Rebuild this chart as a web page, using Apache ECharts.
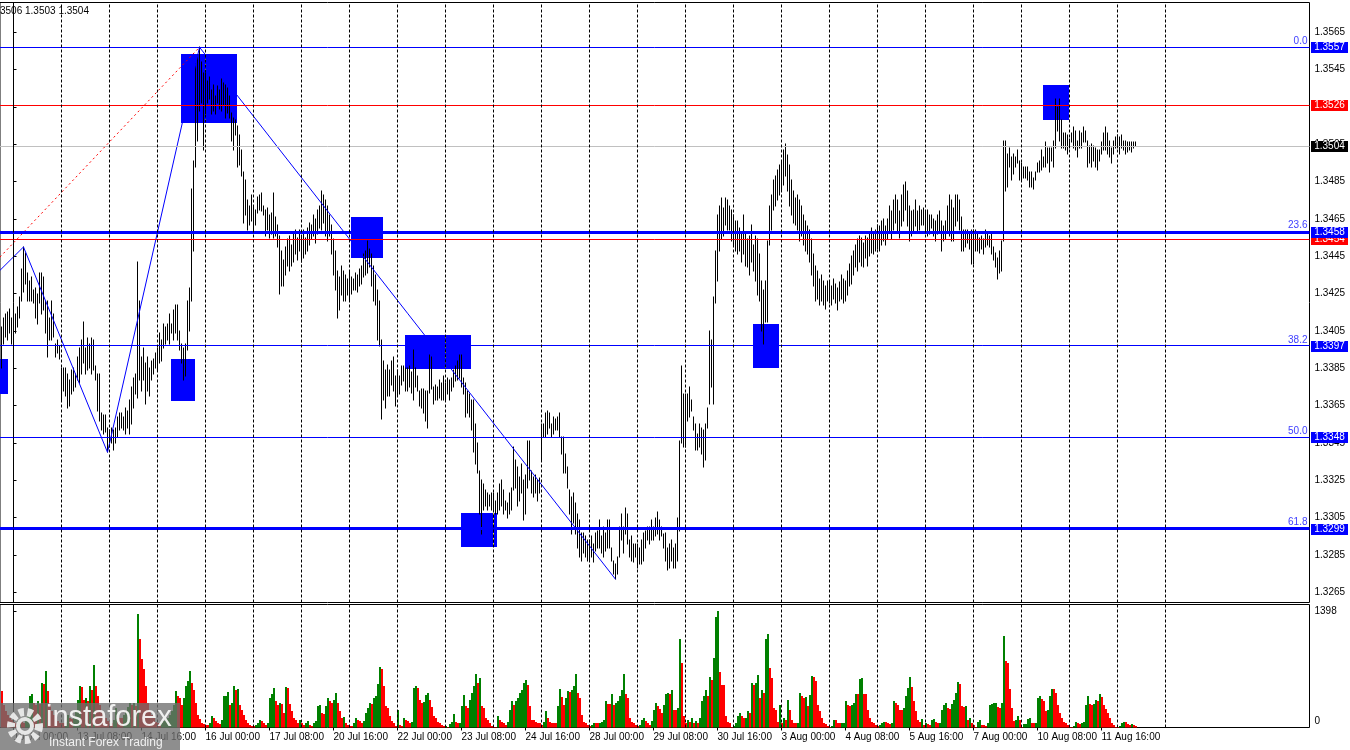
<!DOCTYPE html>
<html>
<head>
<meta charset="utf-8">
<script src="https://cdn.jsdelivr.net/npm/echarts@6.0.0/dist/echarts.min.js"></script>
<style>
html,body{margin:0;padding:0;background:#fff;}
#chart{width:1350px;height:750px;}
</style>
</head>
<body>
<div id="chart"></div>
<script>
// ---------------- DATA ----------------
// hourly bars, index 0 = 10 Jul 00:00 (one index per trading hour)
const firstBar = -6;
const priceBase = 1.3;            // prices stored in pips above 1.3000
// [low, high] of each hourly bar in pips
const rangePips = [
// 9 Jul 18:00-23:00
[385,407],[398,412],[402,414],[400,415],[404,417],[398,412],
// 10 Jul
[394,411],[404,414],[407,418],[412,423],[421,438],[426,450],[430,447],[421,436],[421,432],[421,434],[420,427],[412,428],[409,425],[420,436],[414,436],[416,434],[404,421],[391,421],[400,412],[400,421],[402,414],[391,398],[393,400],[390,397],
// 13 Jul
[368,385],[373,385],[370,385],[364,382],[365,379],[371,384],[373,385],[375,382],[379,391],[377,396],[382,400],[388,410],[382,396],[384,401],[385,398],[382,401],[384,400],[379,386],[362,382],[357,382],[352,361],[350,360],[351,360],[340,353],
// 14 Jul
[343,352],[345,353],[341,352],[345,353],[348,359],[352,361],[353,361],[352,359],[350,364],[353,362],[350,368],[355,375],[364,380],[371,382],[369,442],[379,421],[373,391],[379,396],[366,388],[373,391],[370,385],[379,389],[382,390],[385,393],
// 15 Jul
[384,396],[388,404],[389,400],[396,409],[398,407],[400,409],[398,414],[404,409],[400,416],[404,419],[400,419],[395,405],[388,398],[379,396],[381,398],[395,421],[405,428],[421,481],[448,496],[493,548],[507,553],[523,557],[527,549],[502,543],
// 16 Jul
[521,543],[527,539],[529,541],[521,534],[523,537],[521,531],[527,536],[524,534],[523,540],[526,538],[519,537],[522,535],[519,531],[507,522],[502,519],[510,518],[493,515],[494,510],[488,502],[463,490],[467,486],[459,475],[462,472],[464,478],
// 17 Jul
[458,472],[462,470],[468,477],[470,478],[469,479],[467,472],[456,470],[459,471],[455,467],[457,468],[455,479],[456,466],[450,462],[425,456],[429,448],[429,443],[435,450],[440,454],[437,456],[440,451],[442,458],[446,459],[443,455],[448,459],
// 20 Jul
[442,456],[444,459],[446,455],[448,460],[451,463],[454,462],[456,467],[452,465],[457,470],[460,472],[459,480],[463,478],[456,475],[453,472],[456,467],[446,462],[435,454],[427,448],[412,437],[416,434],[424,440],[421,437],[421,435],[424,433],
// 21 Jul
[421,437],[425,434],[427,433],[427,436],[426,435],[429,438],[430,440],[434,446],[435,448],[436,453],[439,449],[429,446],[421,440],[419,435],[400,427],[397,421],[358,400],[368,389],[364,384],[370,387],[370,384],[376,389],[373,391],[365,381],
// 22 Jul
[370,384],[371,381],[376,386],[378,386],[373,385],[373,385],[375,386],[372,383],[368,395],[375,385],[373,381],[365,373],[364,374],[361,374],[357,373],[353,373],[372,392],[374,391],[366,375],[368,376],[368,375],[369,379],[368,377],[368,381],
// 23 Jul
[368,377],[371,380],[368,379],[373,380],[375,384],[378,386],[379,389],[380,392],[375,392],[371,380],[359,377],[361,373],[359,371],[352,368],[340,368],[334,355],[329,345],[307,330],[296,325],[309,323],[311,320],[309,318],[311,317],[309,318],
// 24 Jul
[309,318],[307,314],[307,318],[309,323],[311,325],[307,320],[309,314],[305,313],[307,318],[309,321],[320,343],[321,336],[311,332],[314,327],[318,334],[304,325],[307,328],[321,346],[325,346],[318,330],[316,327],[318,328],[314,325],[318,326],
// 27 Jul
[336,355],[348,355],[348,361],[350,362],[353,361],[348,355],[350,359],[352,358],[352,359],[348,361],[339,348],[329,348],[329,339],[321,332],[307,320],[296,316],[302,318],[296,313],[289,307],[284,304],[282,297],[286,297],[284,295],[282,293],
// 28 Jul
[282,293],[284,295],[281,291],[287,297],[289,298],[289,304],[286,295],[284,300],[287,297],[289,304],[289,304],[282,289],[275,282],[272,280],[275,284],[284,300],[293,307],[286,300],[296,310],[291,307],[284,293],[282,295],[281,291],[284,291],
// 29 Jul
[278,291],[280,289],[280,293],[282,297],[289,298],[293,300],[291,300],[293,304],[293,300],[295,305],[296,308],[293,304],[295,300],[289,296],[282,297],[277,289],[278,291],[282,293],[278,289],[278,291],[282,305],[298,346],[345,386],[343,371],
// 30 Jul
[343,371],[357,371],[359,375],[362,368],[352,359],[341,355],[341,350],[343,355],[339,353],[332,352],[336,355],[353,364],[366,405],[375,400],[366,423],[420,448],[432,467],[448,472],[454,476],[456,471],[462,476],[459,475],[459,472],[453,470],
// 31 Jul
[451,467],[448,464],[446,464],[448,460],[442,458],[446,467],[440,458],[439,454],[435,456],[442,462],[437,451],[432,456],[424,454],[421,446],[405,432],[398,427],[410,432],[410,453],[451,472],[459,478],[470,486],[472,488],[475,491],[478,494],
// 3 Aug
[480,496],[483,502],[488,505],[480,499],[472,494],[467,486],[463,480],[462,476],[459,478],[453,475],[456,472],[451,467],[448,464],[446,461],[442,459],[435,454],[429,446],[421,440],[422,437],[419,433],[421,435],[419,432],[417,429],[421,432],
// 4 Aug
[420,431],[419,429],[422,433],[420,430],[416,428],[421,431],[422,435],[420,433],[421,432],[424,437],[429,441],[430,445],[435,448],[439,451],[437,454],[442,456],[440,455],[439,452],[444,456],[440,455],[445,458],[447,460],[446,458],[448,459],
// 5 Aug
[449,462],[448,461],[451,464],[453,465],[451,461],[454,465],[458,472],[454,469],[459,475],[463,478],[458,475],[455,469],[461,478],[464,483],[470,485],[461,480],[453,472],[456,469],[458,470],[461,475],[458,469],[459,472],[462,470],[462,471],
// 6 Aug
[458,469],[456,470],[457,467],[460,467],[456,465],[453,464],[457,467],[458,469],[448,464],[453,461],[454,464],[458,472],[456,478],[453,475],[453,471],[461,478],[464,478],[459,475],[448,466],[448,459],[450,459],[452,459],[449,457],[441,459],
// 7 Aug
[441,459],[448,459],[448,457],[447,455],[449,456],[446,454],[450,459],[451,457],[450,456],[446,457],[443,450],[439,447],[433,444],[436,448],[437,453],[453,507],[480,507],[482,500],[493,503],[486,498],[489,500],[493,498],[495,502],[486,496],
// 10 Aug
[486,495],[487,493],[487,493],[486,493],[482,490],[482,490],[481,487],[486,490],[490,495],[490,496],[491,502],[493,498],[493,506],[495,503],[490,503],[496,503],[493,507],[503,529],[512,525],[507,529],[503,518],[503,511],[502,511],[500,510],
// 11 Aug
[503,508],[506,511],[503,514],[502,512],[498,507],[503,512],[503,511],[506,514],[506,512],[493,507],[495,504],[493,505],[496,504],[493,503],[491,502],[496,502],[500,506],[502,511],[502,514],[500,511],[498,507],[495,503],[500,507],[503,509],
// 12 Aug
[503,510],[500,509],[503,510],[502,507],[500,507],[501,506],[502,506],[501,506],[503,506],[504,506]
];

// tick volume of each bar
const volumes = [
435,274,200,150,120,90,
70,55,80,100,75,60,95,150,383,403,294,274,314,286,536,520,677,435,274,200,150,110,80,60,
60,50,70,150,120,100,130,200,334,496,488,334,355,314,496,455,745,496,383,274,200,150,110,80,
60,50,90,230,150,120,110,150,200,250,290,270,300,255,1362,1060,818,697,496,300,200,150,110,70,
60,50,60,80,100,120,150,200,274,435,375,355,274,355,496,556,677,536,455,300,153,100,50,40,
32,30,52,133,113,73,52,44,93,375,383,423,274,294,504,447,463,274,213,153,93,52,32,20,
18,32,52,85,80,52,32,60,355,407,476,322,274,294,286,173,488,476,286,193,113,85,52,93,
52,32,60,73,32,20,60,80,262,270,173,165,254,355,314,300,335,415,300,200,120,130,60,35,
24,16,52,113,93,73,52,73,177,238,298,278,359,380,520,721,701,500,258,238,137,73,52,24,
205,32,20,113,93,73,60,65,475,496,475,334,290,310,395,415,330,250,140,110,70,50,30,15,
16,12,40,72,165,72,52,60,254,395,262,234,326,415,496,637,536,596,254,234,113,93,52,20,
12,4,133,93,72,52,32,72,214,314,274,314,355,415,455,536,576,516,254,93,90,72,52,50,
32,72,193,113,72,60,58,52,254,463,367,274,355,435,430,445,496,637,415,355,153,72,52,32,
20,32,60,52,50,55,72,85,314,286,280,407,274,290,314,375,455,637,407,355,113,72,52,32,
20,32,93,113,80,60,32,80,214,294,254,222,180,274,407,420,400,455,214,210,234,1068,770,133,
52,93,72,113,60,80,52,113,314,375,455,375,608,568,838,1322,1398,665,516,510,133,72,52,12,
20,52,133,173,141,113,120,193,170,536,516,536,625,355,447,415,1060,1120,717,596,234,214,72,274,
60,113,93,334,214,85,60,52,55,415,375,355,363,254,395,617,608,556,274,193,113,60,44,20,
10,20,93,85,60,52,55,60,314,274,254,274,294,407,400,584,596,407,400,214,113,72,60,32,
20,30,60,72,70,52,44,60,314,294,274,214,210,234,375,475,608,488,314,193,85,72,101,32,
60,44,32,93,101,72,52,60,214,274,294,234,220,280,334,415,544,528,254,250,254,85,113,60,
32,12,72,85,32,30,24,52,274,280,294,300,246,234,294,1100,798,780,467,234,80,93,141,93,
12,40,42,101,113,52,50,52,355,383,343,314,200,214,383,463,460,415,274,173,113,72,52,32,
12,10,20,72,52,44,52,72,274,383,282,274,278,334,314,403,367,274,222,173,113,60,32,12,
4,20,52,72,64,40,32,44,32,20
];

// day starts (00:00) in bar index
const dayStarts = [0,24,48,72,96,120,144,168,192,216,240,264,288,312,336,360,384,408,432,456,480,504,528,552,576];
// time-axis labels
const timeLabelIdx = [0,32,64,96,128,160,192,224,256,288,320,352,384,416,448,480,512,544];
const timeLabels = ['10 Jul 00:00','13 Jul 08:00','14 Jul 16:00','16 Jul 00:00','17 Jul 08:00','20 Jul 16:00','22 Jul 00:00','23 Jul 08:00','24 Jul 16:00','28 Jul 00:00','29 Jul 08:00','30 Jul 16:00','3 Aug 00:00','4 Aug 08:00','5 Aug 16:00','7 Aug 00:00','10 Aug 08:00','11 Aug 16:00'];
// price scale labels
const priceTicks = [1.3265,1.3285,1.3305,1.3325,1.3345,1.3365,1.3385,1.3405,1.3425,1.3445,1.3465,1.3485,1.3505,1.3525,1.3545,1.3565];
const volumeTicks = [0, 1398];

// Fibonacci levels
const fibPrices = [1.3557, 1.3458, 1.3397, 1.3348, 1.3299];
const fibNames  = ['0.0', '23.6', '38.2', '50.0', '61.8'];
// red support / resistance levels
const redLevels = [1.3526, 1.3454];
const lastPrice = 1.3504;
const headerText = '3506 1.3503 1.3504';

// zigzag swing points [bar index, price]
const zigzag = [[-6.75,1.34375],[5,1.3450],[47,1.3340],[93,1.3557],[301,1.3272]];
// fibonacci base line (dotted red)
const fibBase = [[-6.75,1.34446],[93,1.3557]];
// blue zones [startIdx, endIdx, lowPrice, highPrice]
const zones = [
  [-6.75,-2.6,1.33711,1.33898],
  [78.75,90.75,1.33675,1.33898],
  [83.75,111.6,1.35164,1.35532],
  [168.75,184.6,1.34441,1.34661],
  [195.75,228.75,1.33845,1.34027],
  [223.75,241.6,1.32893,1.33075],
  [369.75,382.75,1.33852,1.34086],
  [514.75,527.75,1.35180,1.35366]
];

// ---------------- BUILD ----------------
const FONT = "'Liberation Sans', Arial, sans-serif";
const FS = 10;
const priceData = rangePips.map((r, k) => [firstBar + k, priceBase + r[0] / 1e4, priceBase + r[1] / 1e4]);
const volData = volumes.map((v, k) => [firstBar + k, v, (k > 0 && v > volumes[k - 1]) ? 1 : 0]);
const fibWidths = [1, 3, 1, 1, 3];

// level table: price + drawing style (red first so the blue 1.3458 tag covers the red 1.3454 tag)
const levelStyles = [];
const levelData = [];
redLevels.forEach(p => { levelData.push([p, levelStyles.length]); levelStyles.push({stroke: '#ff0000', w: 1, bg: '#ff0000', name: ''}); });
levelData.push([lastPrice, levelStyles.length]); levelStyles.push({stroke: '#c0c0c0', w: 1, bg: '#000000', name: ''});
fibPrices.forEach((p, i) => { levelData.push([p, levelStyles.length]); levelStyles.push({stroke: '#0000ff', w: fibWidths[i], bg: '#0000ff', name: fibNames[i]}); });

const X_MIN = -6.75, X_MAX = 648;
const vertLine = {symbol: ['none', 'none'], silent: true, animation: false, precision: 4,
  lineStyle: {color: '#000', width: 1, type: [3, 2]}, label: {show: false},
  data: dayStarts.map(d => ({xAxis: d}))};
const snap = v => Math.round(v - 0.5) + 0.5;

const titles = [{text: headerText, left: 0, top: 6, padding: 0,
  textStyle: {fontSize: FS, fontWeight: 'normal', color: '#000', fontFamily: FONT}}];
if (rangePips.length !== volumes.length) {
  titles.push({text: 'COUNT MISMATCH ' + rangePips.length + ' / ' + volumes.length, left: 400, top: 300, textStyle: {color: 'red', fontSize: 30}});
}

const chart = echarts.init(document.getElementById('chart'), null, {renderer: 'canvas'});
chart.setOption({
  animation: false,
  backgroundColor: '#ffffff',
  title: titles,
  grid: [
    {left: 0, right: 40.5, top: 2.5, height: 600, show: true, borderColor: '#000', borderWidth: 1},
    {left: 0, right: 40.5, top: 604.5, height: 123, show: true, borderColor: '#000', borderWidth: 1}
  ],
  xAxis: [
    {gridIndex: 0, type: 'value', min: X_MIN, max: X_MAX, show: false},
    {gridIndex: 1, type: 'value', min: X_MIN, max: X_MAX,
      axisLine: {show: false},
      axisTick: {show: true, customValues: timeLabelIdx, length: 3, lineStyle: {color: '#000'}},
      axisLabel: {show: true, customValues: timeLabelIdx, align: 'left', margin: 5, color: '#000', fontSize: FS, fontFamily: FONT,
        formatter: v => timeLabels[timeLabelIdx.indexOf(Math.round(v))] || ''},
      splitLine: {show: false}}
  ],
  yAxis: [
    {gridIndex: 0, type: 'value', position: 'right', min: 1.3259536, max: 1.3580964,
      axisLine: {show: true, lineStyle: {color: '#000'}},
      axisTick: {show: true, customValues: priceTicks, length: 3, lineStyle: {color: '#000'}},
      axisLabel: {show: true, customValues: priceTicks, margin: 5, color: '#000', fontSize: FS, fontFamily: FONT,
        formatter: v => v.toFixed(4)},
      splitLine: {show: false}},
    {gridIndex: 1, type: 'value', position: 'right', min: 0, max: 1476,
      axisLine: {show: true, lineStyle: {color: '#000'}},
      axisTick: {show: true, customValues: volumeTicks, length: 3, lineStyle: {color: '#000'}},
      axisLabel: {show: true, customValues: volumeTicks, margin: 5, color: '#000', fontSize: FS, fontFamily: FONT,
        formatter: v => v === 0 ? '{z|0}' : String(v),
        rich: {z: {padding: [0, 0, 12, 0], fontSize: FS, fontFamily: FONT, color: '#000'}}},
      splitLine: {show: false}}
  ],
  series: [
    {name: 'vgrid', type: 'line', xAxisIndex: 0, yAxisIndex: 0, data: [], z: 0, silent: true, markLine: vertLine},
    {name: 'vgrid2', type: 'line', xAxisIndex: 1, yAxisIndex: 1, data: [], z: 0, silent: true, markLine: vertLine},
    {name: 'zones', type: 'custom', xAxisIndex: 0, yAxisIndex: 0, z: 1, silent: true, clip: true,
      data: zones,
      renderItem: (params, api) => {
        const x0 = api.value(0), x1 = api.value(1), p0 = api.value(2), p1 = api.value(3);
        const a = api.coord([x0, p1]), b = api.coord([x1, p0]);
        const l = Math.round(a[0]), t = Math.round(a[1]), r = Math.round(b[0]), bt = Math.round(b[1]);
        const children = [{type: 'rect', shape: {x: l, y: t, width: r - l, height: bt - t}, style: {fill: '#0000ff'}}];
        dayStarts.forEach(d => {
          if (d > x0 && d < x1) {
            const gx = snap(api.coord([d, p0])[0]);
            children.push({type: 'line', shape: {x1: gx, y1: t, x2: gx, y2: bt},
              style: {stroke: '#ffff00', lineWidth: 1, lineDash: [3, 2]}});
          }
        });
        return {type: 'group', children};
      }},
    {name: 'bars', type: 'custom', xAxisIndex: 0, yAxisIndex: 0, z: 2, silent: true, clip: true,
      data: priceData,
      renderItem: (params, api) => {
        const i = api.value(0);
        const lo = api.coord([i, api.value(1)]), hi = api.coord([i, api.value(2)]);
        const x = snap(lo[0]);
        return {type: 'line', shape: {x1: x, y1: Math.round(lo[1]) + 0.5, x2: x, y2: Math.round(hi[1]) - 0.5},
          style: {stroke: '#000', lineWidth: 1}};
      }},
    {name: 'zigzag', type: 'line', xAxisIndex: 0, yAxisIndex: 0, z: 3, silent: true, clip: true,
      data: zigzag, symbol: 'none', lineStyle: {color: '#0000ff', width: 1}},
    {name: 'fibBase', type: 'line', xAxisIndex: 0, yAxisIndex: 0, z: 3, silent: true, clip: true,
      data: fibBase, symbol: 'none', lineStyle: {color: '#ff0000', width: 1, type: [2, 3]}},
    {name: 'levels', type: 'custom', xAxisIndex: 0, yAxisIndex: 0, z: 4, silent: true, clip: false,
      data: levelData,
      renderItem: (params, api) => {
        const cs = params.coordSys;
        const k = api.value(1);
        const st = levelStyles[k];
        const price = api.value(0);
        const y0 = api.coord([X_MIN, price])[1];
        const y = st.w % 2 === 1 ? snap(y0) : Math.round(y0);
        const right = cs.x + cs.width;
        const yc = Math.round(y0);
        const children = [
          {type: 'line', z2: k, shape: {x1: cs.x, y1: y, x2: right, y2: y}, style: {stroke: st.stroke, lineWidth: st.w}},
          {type: 'rect', z2: 100 + k, shape: {x: Math.round(right) + 1, y: yc - 5, width: 37, height: 11}, style: {fill: st.bg}},
          {type: 'text', z2: 101 + k, style: {x: Math.round(right) + 19.5, y: yc + 0.5, text: price.toFixed(4), fill: '#ffffff',
            fontSize: FS, fontFamily: FONT, align: 'center', verticalAlign: 'middle'}}
        ];
        if (st.name) {
          children.push({type: 'text', z2: 50, style: {x: right - 2, y: yc - Math.ceil(st.w / 2), text: st.name, fill: '#4040ff',
            fontSize: FS, fontFamily: FONT, align: 'right', verticalAlign: 'bottom'}});
        }
        return {type: 'group', children};
      }},
    {name: 'volume', type: 'custom', xAxisIndex: 1, yAxisIndex: 1, z: 2, silent: true, clip: true,
      data: volData,
      renderItem: (params, api) => {
        const i = api.value(0);
        const top = api.coord([i, api.value(1)]), base = api.coord([i, 0]);
        const w = Math.round(api.size([1, 0])[0]);
        const x = Math.round(top[0] - 0.5);
        return {type: 'rect', shape: {x: x, y: Math.round(top[1]), width: w, height: Math.round(base[1]) - Math.round(top[1])},
          style: {fill: api.value(2) ? '#008000' : '#ff0000'}};
      }}
  ],
  graphic: [
    {type: 'rect', z: 100, silent: true, shape: {x: 0, y: 703, width: 180, height: 47}, style: {fill: 'rgba(110,110,110,0.78)'}},
    {type: 'circle', z: 101, silent: true, shape: {cx: 25, cy: 726, r: 14}, style: {fill: 'none', stroke: 'rgba(235,235,235,0.95)', lineWidth: 8, lineDash: [5, 3.5]}},
    {type: 'circle', z: 101, silent: true, shape: {cx: 25, cy: 726, r: 7}, style: {fill: 'none', stroke: 'rgba(235,235,235,0.95)', lineWidth: 4}},
    {type: 'text', z: 101, silent: true, x: 46, y: 703, style: {text: 'instaforex', fill: 'rgba(245,245,245,0.95)', fontSize: 29, fontFamily: 'Liberation Sans', verticalAlign: 'top'}},
    {type: 'text', z: 101, silent: true, x: 49, y: 737, style: {text: 'Instant Forex Trading', fill: 'rgba(245,245,245,0.95)', fontSize: 12, fontFamily: 'Liberation Sans', verticalAlign: 'top'}}
  ]
});
</script>
</body>
</html>
